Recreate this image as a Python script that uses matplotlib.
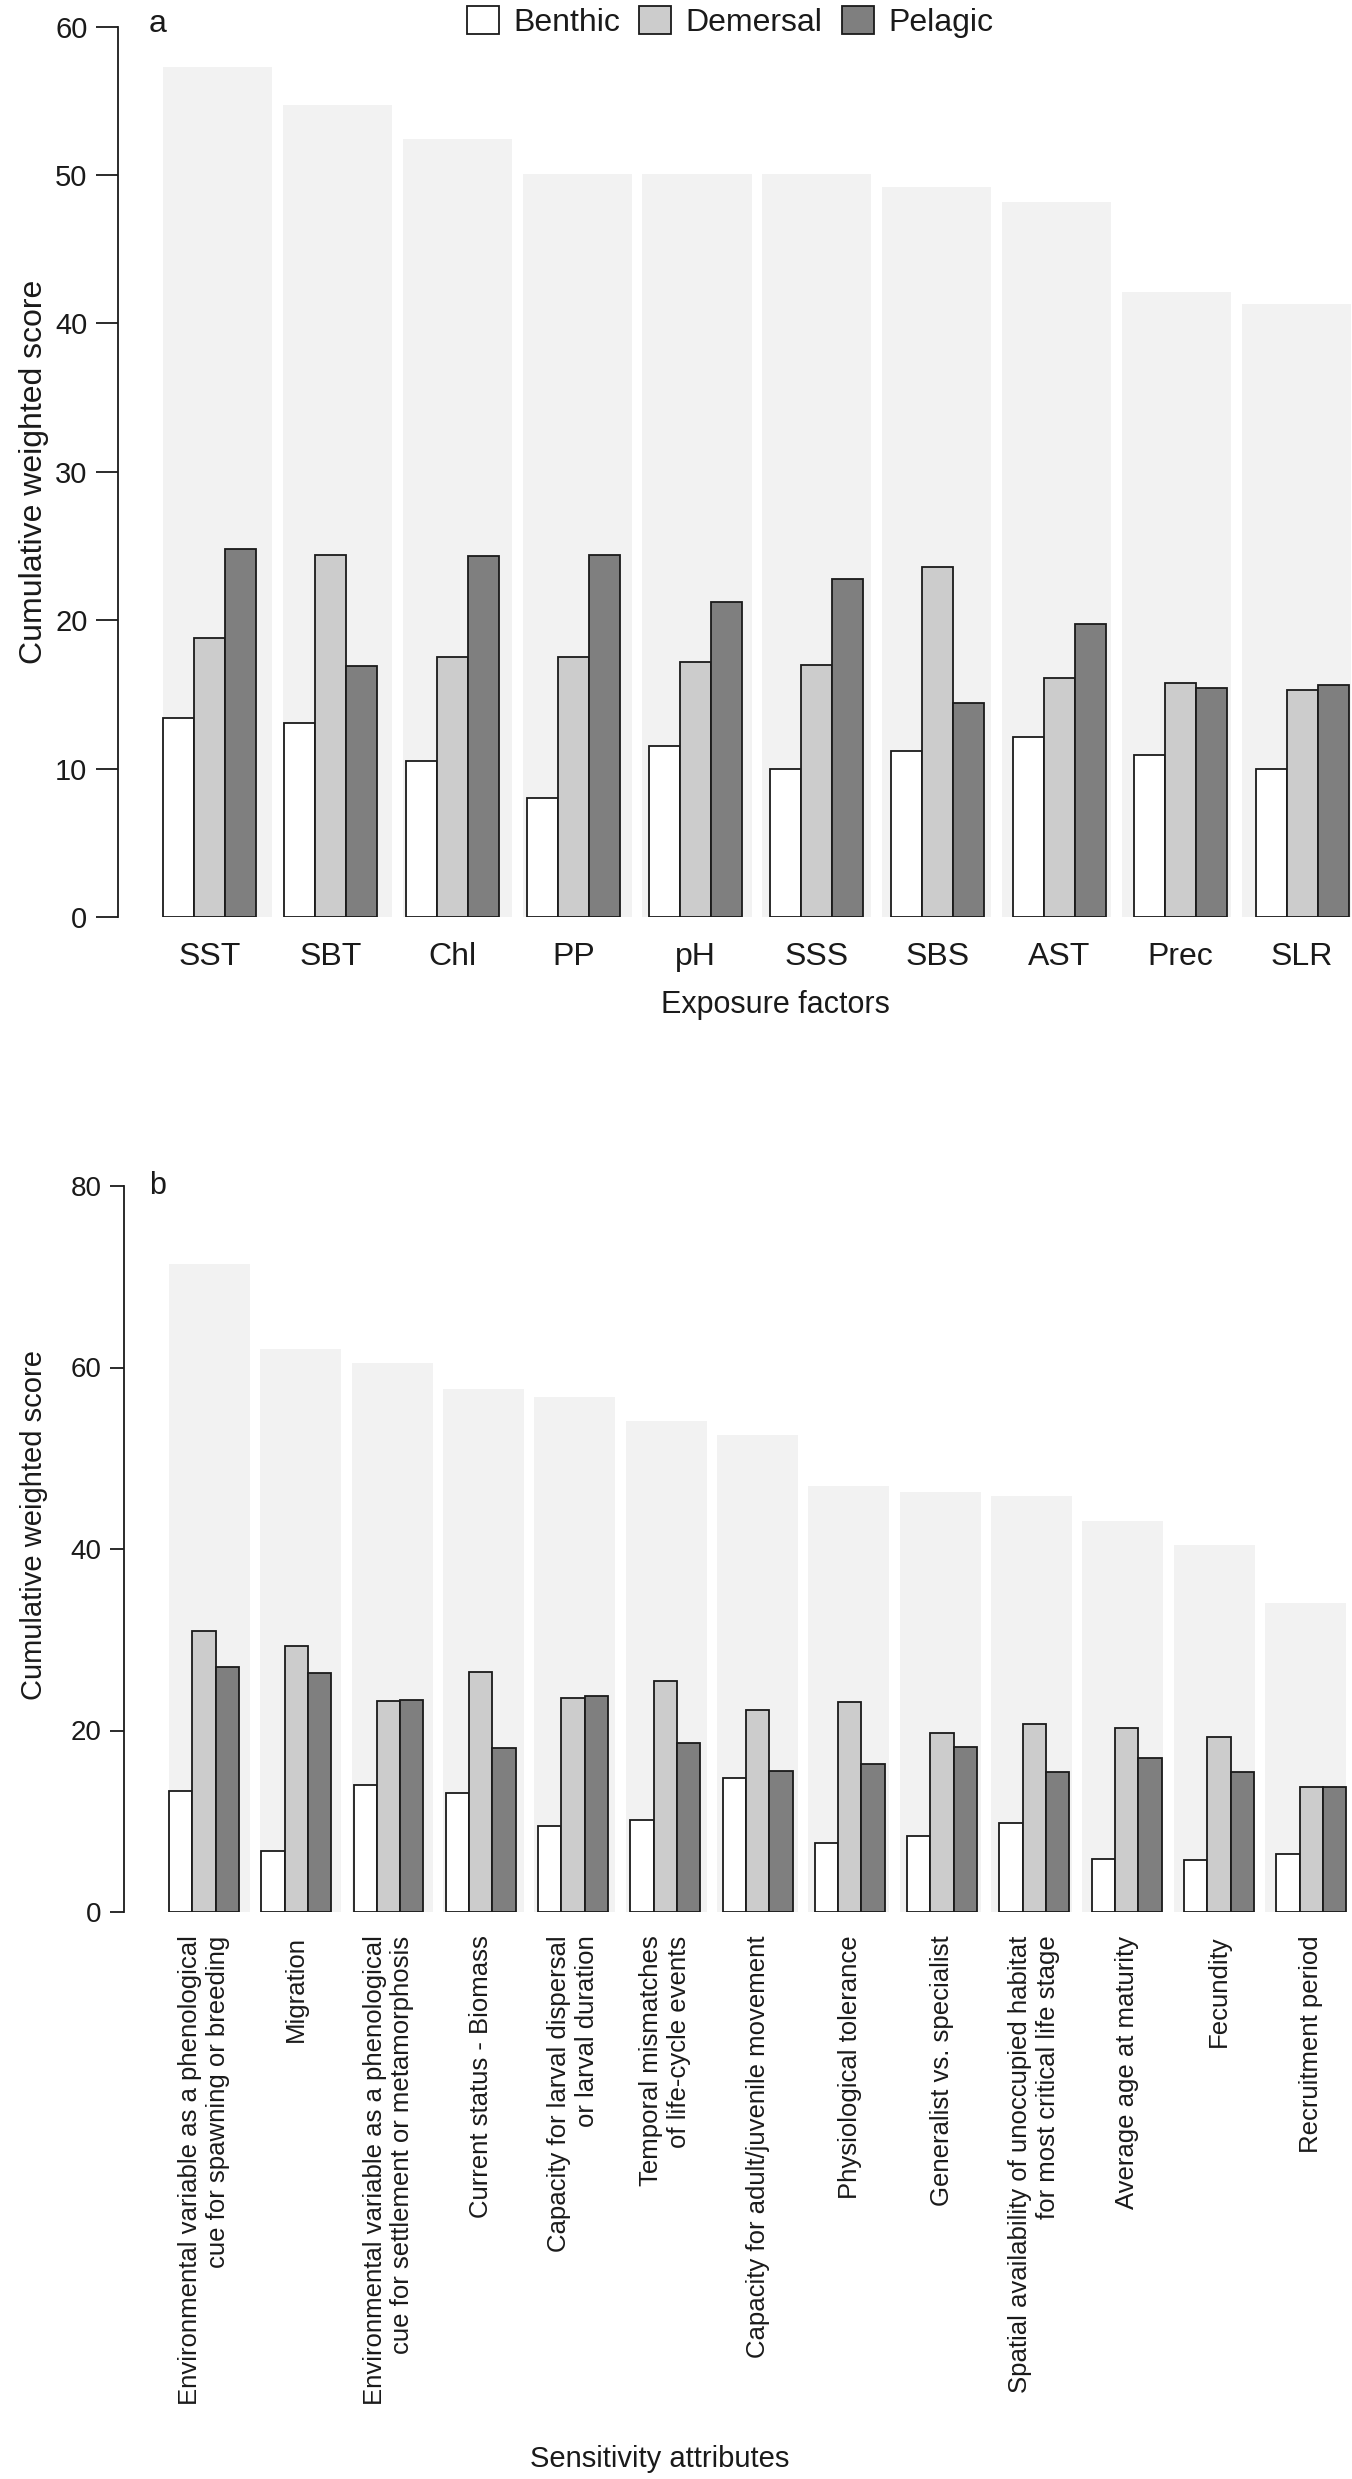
"""
Cumulative weighted exposure / sensitivity scores by habitat group.
Saves out.png (1352 x 2479 px).
"""

import numpy as np
import matplotlib
matplotlib.use("Agg")
import matplotlib.pyplot as plt
from matplotlib.patches import Patch

plt.rcParams["font.family"] = ["Liberation Sans", "DejaVu Sans"]

# --------------------------------------------------------------------------- data
GROUPS = ["Benthic", "Demersal", "Pelagic"]

EXPOSURE = ["SST", "SBT", "Chl", "PP", "pH", "SSS", "SBS", "AST", "Prec", "SLR"]
BENTHIC_A = [13.4, 13.1, 10.5, 8.05, 11.5, 10.0, 11.2, 12.15, 10.9, 10.0]
DEMERSAL_A = [18.8, 24.4, 17.5, 17.5, 17.2, 17.0, 23.6, 16.1, 15.8, 15.3]
PELAGIC_A = [24.8, 16.9, 24.3, 24.4, 21.2, 22.8, 14.4, 19.75, 15.4, 15.65]
TOTAL_A = [57.3, 54.7, 52.4, 50.1, 50.1, 50.1, 49.2, 48.2, 42.1, 41.3]

SENSITIVITY = [
    "Environmental variable as a phenological\ncue for spawning or breeding",
    "Migration",
    "Environmental variable as a phenological\ncue for settlement or metamorphosis",
    "Current status - Biomass",
    "Capacity for larval dispersal\nor larval duration",
    "Temporal mismatches\nof life-cycle events",
    "Capacity for adult/juvenile movement",
    "Physiological tolerance",
    "Generalist vs. specialist",
    "Spatial availability of unoccupied habitat\nfor most critical life stage",
    "Average age at maturity",
    "Fecundity",
    "Recruitment period",
]
BENTHIC_B = [13.3, 6.7, 14.0, 13.1, 9.5, 10.1, 14.8, 7.6, 8.4, 9.8, 5.8, 5.7, 6.4]
DEMERSAL_B = [31.0, 29.3, 23.3, 26.5, 23.6, 25.4, 22.3, 23.1, 19.7, 20.7, 20.3, 19.3, 13.8]
PELAGIC_B = [27.0, 26.3, 23.4, 18.1, 23.8, 18.6, 15.5, 16.3, 18.2, 15.4, 17.0, 15.4, 13.8]
TOTAL_B = [71.4, 62.0, 60.5, 57.6, 56.8, 54.1, 52.6, 46.9, 46.3, 45.8, 43.1, 40.4, 34.0]

# --------------------------------------------------------------------------- style
FILLS = ["white", "#cccccc", "#7f7f7f"]
BG = "#f2f2f2"
EDGE = "#1a1a1a"
TXT = "#1a1a1a"

W, H = 1352, 2479
fig = plt.figure(figsize=(W / 100, H / 100), dpi=100)


def px_axes(left, bottom, right, top):
    return fig.add_axes([left / W, 1 - bottom / H, (right - left) / W, (bottom - top) / H])


def draw_panel(ax, series, totals, labels, bg_step, bg_w, grp_step, ymax, yticks,
               ticklen, ysize, rot, labelsize, pad, xlim):
    n = len(totals)
    bg_x = np.arange(n) * bg_step
    ax.bar(bg_x, totals, width=bg_w, align="edge", color=BG, linewidth=0, zorder=1)
    grp_x = np.arange(n) * grp_step
    for k, vals in enumerate(series):
        ax.bar(grp_x + k, vals, width=1.0, align="edge", color=FILLS[k],
               edgecolor=EDGE, linewidth=1.3, zorder=2)
    ax.set_xlim(*xlim)
    ax.set_ylim(0, ymax)
    for s in ["top", "right", "bottom"]:
        ax.spines[s].set_visible(False)
    ax.spines["left"].set_bounds(0, ymax)
    ax.spines["left"].set_linewidth(1.3)
    ax.spines["left"].set_color(EDGE)
    ax.set_yticks(yticks)
    ax.tick_params(axis="y", length=ticklen, width=1.3, color=EDGE,
                   labelsize=ysize, labelcolor=TXT, pad=6)
    centers = grp_x + 1.5
    if rot:
        ax.set_xticks(centers, labels, rotation=90, multialignment="right",
                      fontsize=labelsize, color=TXT)
    else:
        ax.set_xticks(centers, labels, fontsize=labelsize, color=TXT)
    ax.tick_params(axis="x", length=0, pad=pad)
    ax.patch.set_alpha(0)


# ---- panel a
ax_a = px_axes(118, 917, 1352, 26.6)
draw_panel(ax_a, [BENTHIC_A, DEMERSAL_A, PELAGIC_A], TOTAL_A, EXPOSURE,
           bg_step=3.866, bg_w=3.52, grp_step=3.916, ymax=60,
           yticks=range(0, 61, 10), ticklen=16, ysize=21, rot=False, labelsize=23,
           pad=18, xlim=((118 - 163) / 31, (1352 - 163) / 31))

# ---- panel b
ax_b = px_axes(124, 1912, 1352, 1186)
draw_panel(ax_b, [BENTHIC_B, DEMERSAL_B, PELAGIC_B], TOTAL_B, SENSITIVITY,
           bg_step=3.92, bg_w=3.48, grp_step=3.96, ymax=80,
           yticks=range(0, 81, 20), ticklen=10, ysize=20, rot=True, labelsize=18.5,
           pad=17, xlim=((124 - 169) / 23.3, (1352 - 169) / 23.3))

# ---- axis titles and panel letters
fig.text(775 / W, 1 - 1005 / H, "Exposure factors", ha="center", va="center",
         fontsize=22, color=TXT)
fig.text(660 / W, 1 - 2459 / H, "Sensitivity attributes", ha="center", va="center",
         fontsize=21, color=TXT)
fig.text(34 / W, 1 - 472 / H, "Cumulative weighted score", rotation=90,
         ha="center", va="center", fontsize=23, color=TXT)
fig.text(34 / W, 1 - 1525 / H, "Cumulative weighted score", rotation=90,
         ha="center", va="center", fontsize=21, color=TXT)
fig.text(158 / W, 1 - 24 / H, "a", ha="center", va="center", fontsize=23, color=TXT)
fig.text(158 / W, 1 - 1186 / H, "b", ha="center", va="center", fontsize=22, color=TXT)

# ---- legend
handles = [Patch(facecolor=c, edgecolor=EDGE, linewidth=1.3) for c in FILLS]
fig.legend(handles, GROUPS, loc="center", bbox_to_anchor=(730 / W, 1 - 22 / H),
           ncol=3, frameon=False, fontsize=23, handlelength=1.0, handleheight=1.0,
           handletextpad=0.45, columnspacing=0.6, borderaxespad=0, borderpad=0,
           labelcolor=TXT)

fig.savefig("out.png", dpi=100)
plt.close(fig)
